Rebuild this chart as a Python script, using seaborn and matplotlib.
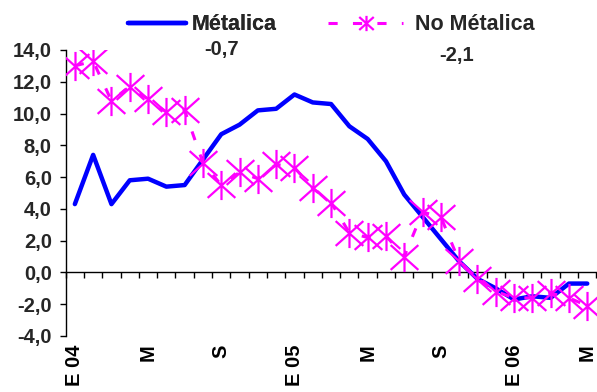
import numpy as np
import pandas as pd
import matplotlib
matplotlib.use("Agg")
import matplotlib.pyplot as plt
from matplotlib.path import Path
from matplotlib.lines import Line2D
import matplotlib.transforms as mtransforms
import seaborn as sns

# ---- data ----
months = ["E 04", "F", "M", "A", "M", "J", "J", "A", "S", "O", "N", "D",
          "E 05", "F", "M", "A", "M", "J", "J", "A", "S", "O", "N", "D",
          "E 06", "F", "M", "A", "M"]
metalica = [4.3, 7.4, 4.3, 5.8, 5.9, 5.4, 5.5, 7.1, 8.7, 9.3, 10.2, 10.3,
            11.2, 10.7, 10.6, 9.2, 8.4, 7.0, 4.9, 3.5, 2.1, 0.7, -0.4, -1.0,
            -1.7, -1.5, -1.6, -0.7, -0.7]
no_metalica = [13.0, 13.3, 10.8, 11.7, 10.9, 10.1, 10.2, 6.9, 5.5, 6.3, 5.9, 6.8,
               6.6, 5.3, 4.4, 2.5, 2.2, 2.3, 1.0, 3.8, 3.5, 0.7, -0.4, -1.2,
               -1.6, -1.6, -1.3, -1.6, -2.1]
series_names = ["Métalica", "No Métalica"]
last_values = ["-0,7", "-2,1"]
label_every = 4
y_ticks = [-4, -2, 0, 2, 4, 6, 8, 10, 12, 14]

df = pd.DataFrame({"idx": np.arange(len(months)),
                   "Métalica": metalica, "No Métalica": no_metalica})

sns.set_style("white")
plt.rcParams["font.family"] = ["Liberation Sans", "DejaVu Sans"]
plt.rcParams["font.weight"] = "bold"

FS = 14.5
FS_LEG = 15.5
BLUE = "#0000FF"
MAG = "#FF00FF"

# star marker: vertical bar + X
star = Path([(0, -1), (0, 1), (-0.95, -0.85), (0.95, 0.85), (-0.95, 0.85), (0.95, -0.85)],
            [Path.MOVETO, Path.LINETO, Path.MOVETO, Path.LINETO, Path.MOVETO, Path.LINETO])

fig = plt.figure(figsize=(5.97, 3.92), dpi=100)
ax = fig.add_axes([65.7 / 597, 1 - 336 / 392, (596.4 - 65.7) / 597, (336 - 50) / 392])

sns.lineplot(data=df, x="idx", y="Métalica", ax=ax, color=BLUE, linewidth=3.2,
             zorder=3, legend=False)
sns.lineplot(data=df, x="idx", y="No Métalica", ax=ax, color=MAG, linewidth=2.2,
             linestyle=(0, (3, 5)), marker=star, markersize=21,
             markeredgewidth=1.6, markeredgecolor=MAG, markerfacecolor="none",
             zorder=4, legend=False)

n = len(months)
ax.set_xlim(-0.5, n - 0.5)
ax.set_ylim(-4, 14)
ax.set_xlabel("")
ax.set_ylabel("")

# y axis
ax.set_yticks(y_ticks)
ax.set_yticklabels([f"{v:.1f}".replace(".", ",") for v in y_ticks],
                   fontsize=FS, fontweight="bold")
ax.tick_params(axis="y", direction="out", length=4, width=1, color="black", pad=6, left=True)

# x axis at zero with ticks between categories
ax.spines["bottom"].set_position(("data", 0))
ax.set_xticks(np.arange(n + 1) - 0.5)
ax.set_xticklabels([])
ax.tick_params(axis="x", direction="out", length=4.5, width=1, color="black", bottom=True)
for s in ["top", "right"]:
    ax.spines[s].set_visible(False)
for s in ["left", "bottom"]:
    ax.spines[s].set_color("black")
    ax.spines[s].set_linewidth(1.0)

trans = mtransforms.blended_transform_factory(ax.transData, ax.transAxes)
for i, lab in enumerate(months):
    if i % label_every == 0:
        ax.text(i, -0.03, lab, transform=trans, rotation=90, ha="center", va="top",
                fontsize=FS, fontweight="bold", color="black")

# legends
h1 = Line2D([], [], color=BLUE, linewidth=3.2)
h2 = Line2D([], [], color=MAG, linewidth=2.2, linestyle=(0, (3, 5)), marker=star,
            markersize=11, markeredgewidth=1.6, markerfacecolor="none")
leg1 = fig.legend([h1], [series_names[0]], loc="center left",
                  bbox_to_anchor=(128 / 597, 1 - 25 / 392), frameon=False,
                  fontsize=FS_LEG, handlelength=2.7, handletextpad=0.25,
                  borderpad=0, borderaxespad=0)
leg2 = fig.legend([h2], [series_names[1]], loc="center left",
                  bbox_to_anchor=(328 / 597, 1 - 25 / 392), frameon=False,
                  fontsize=FS_LEG, handlelength=3.5, handletextpad=0.55,
                  borderpad=0, borderaxespad=0)
for lg in (leg1, leg2):
    for t in lg.get_texts():
        t.set_fontweight("bold")
fig.add_artist(leg1)

fig.text(222 / 597, 1 - 50 / 392, last_values[0], ha="center", va="center",
         fontsize=FS, fontweight="bold")
fig.text(457 / 597, 1 - 55 / 392, last_values[1], ha="center", va="center",
         fontsize=FS, fontweight="bold")

fig.savefig("out.png", dpi=100, facecolor="white")
